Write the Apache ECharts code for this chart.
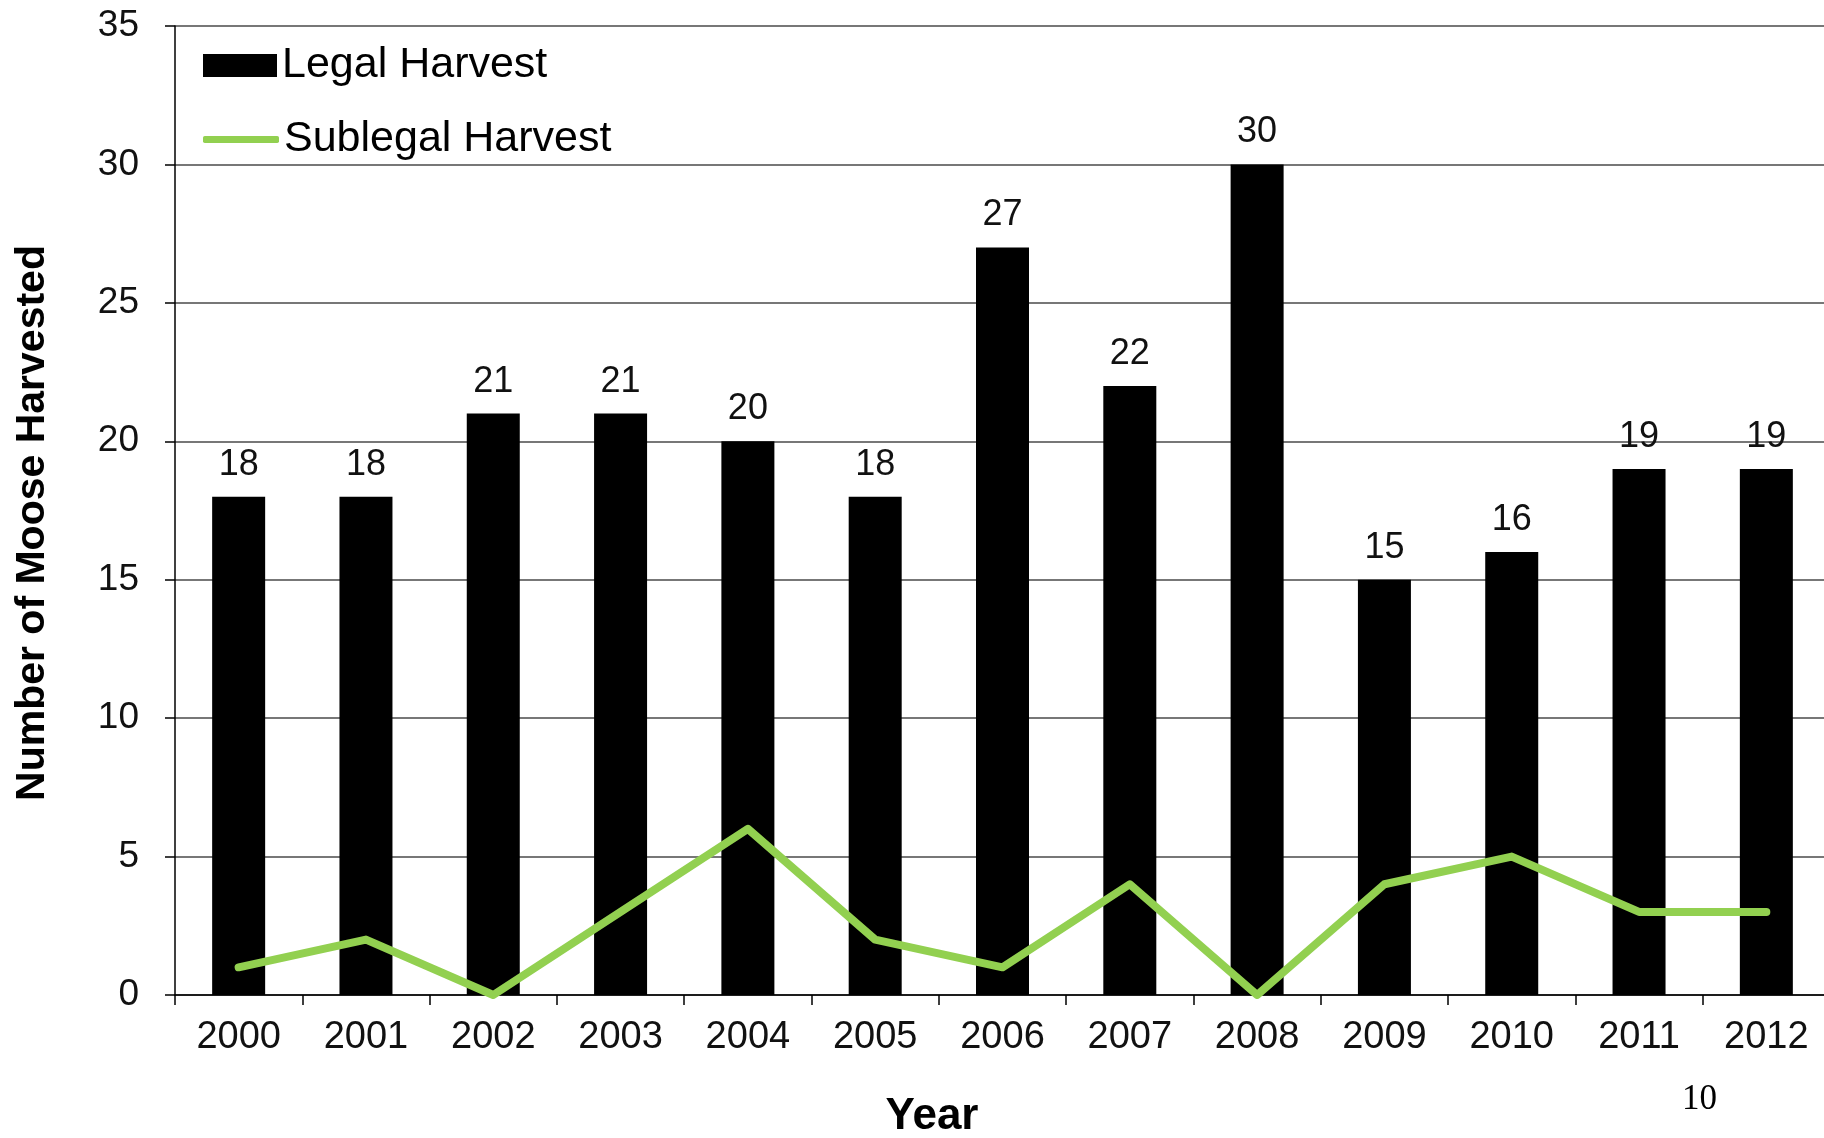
<!DOCTYPE html>
<html>
<head>
<meta charset="utf-8">
<script src="https://cdn.jsdelivr.net/npm/echarts@6/dist/echarts.min.js"></script>
<style>
html,body{margin:0;padding:0;background:#fff;overflow:hidden;width:1824px;height:1138px;}
#chart{width:1840px;height:1138px;}
</style>
</head>
<body>
<div id="chart"></div>
<script>
const years = ['2000','2001','2002','2003','2004','2005','2006','2007','2008','2009','2010','2011','2012'];
const legalHarvest = [18,18,21,21,20,18,27,22,30,15,16,19,19];
const sublegalHarvest = [1,2,0,3,6,2,1,4,0,4,5,3,3];
const yTicks = [0,5,10,15,20,25,30,35];

const FONT = '"Liberation Sans", Arial, sans-serif';
const chart = echarts.init(document.getElementById('chart'), null, {renderer:'canvas'});
chart.setOption({
  animation: false,
  backgroundColor: '#fff',
  grid: {left: 175, top: 26, width: 1655, height: 969, containLabel: false},
  legend: [
    {data: [{name: 'Legal Harvest', icon: 'rect'}], left: 198, top: 39, orient: 'vertical',
     itemWidth: 74, itemHeight: 23, itemGap: 0,
     textStyle: {fontFamily: FONT, fontSize: 43, color: '#000'}},
    {data: [{name: 'Sublegal Harvest', icon: 'roundRect'}], left: 198, top: 113, orient: 'vertical',
     itemWidth: 76, itemHeight: 7, itemGap: 0,
     textStyle: {fontFamily: FONT, fontSize: 43, color: '#000'}}
  ],
  xAxis: {
    type: 'category', data: years, boundaryGap: true,
    axisLine: {show: true, lineStyle: {color: '#000', width: 1.5}},
    axisTick: {show: true, interval: 0, length: 10, lineStyle: {color: '#000', width: 1.5}},
    axisLabel: {interval: 0, margin: 24, fontFamily: FONT, fontSize: 38, color: '#111'}
  },
  yAxis: {
    type: 'value', min: 0, max: 35, interval: 5,
    axisLine: {show: true, lineStyle: {color: '#000', width: 1.5}},
    axisTick: {show: true, length: 10, lineStyle: {color: '#000', width: 1.5}},
    axisLabel: {margin: 36, fontFamily: FONT, fontSize: 37, color: '#111',
      formatter: v => yTicks.includes(v) ? String(v) : ''},
    splitLine: {show: true, lineStyle: {color: '#4a4a4a', width: 1.5}}
  },
  graphic: [
    {type: 'text', x: 33, y: 523, rotation: Math.PI / 2,
     style: {text: 'Number of Moose Harvested', fontFamily: FONT, fontSize: 41, fontWeight: 'bold', fill: '#000', align: 'center', verticalAlign: 'middle'}},
    {type: 'text', x: 932, y: 1117,
     style: {text: 'Year', fontFamily: FONT, fontSize: 44, fontWeight: 'bold', fill: '#000', align: 'center', verticalAlign: 'middle'}},
    {type: 'text', left: 1682, top: 1082,
     style: {text: '10', fontFamily: '"Liberation Serif", "Times New Roman", serif', fontSize: 35, fill: '#000'}}
  ],
  series: [
    {name: 'Legal Harvest', type: 'bar', data: legalHarvest, barWidth: 53,
     itemStyle: {color: '#000'},
     label: {show: true, position: 'top', distance: 14, fontFamily: FONT, fontSize: 36, color: '#111'},
     z: 2},
    {name: 'Sublegal Harvest', type: 'line', data: sublegalHarvest, showSymbol: false, symbol: 'none',
     itemStyle: {color: '#92D050'},
     lineStyle: {color: '#92D050', width: 8, cap: 'round', join: 'round'}, z: 3}
  ]
});
</script>
</body>
</html>
